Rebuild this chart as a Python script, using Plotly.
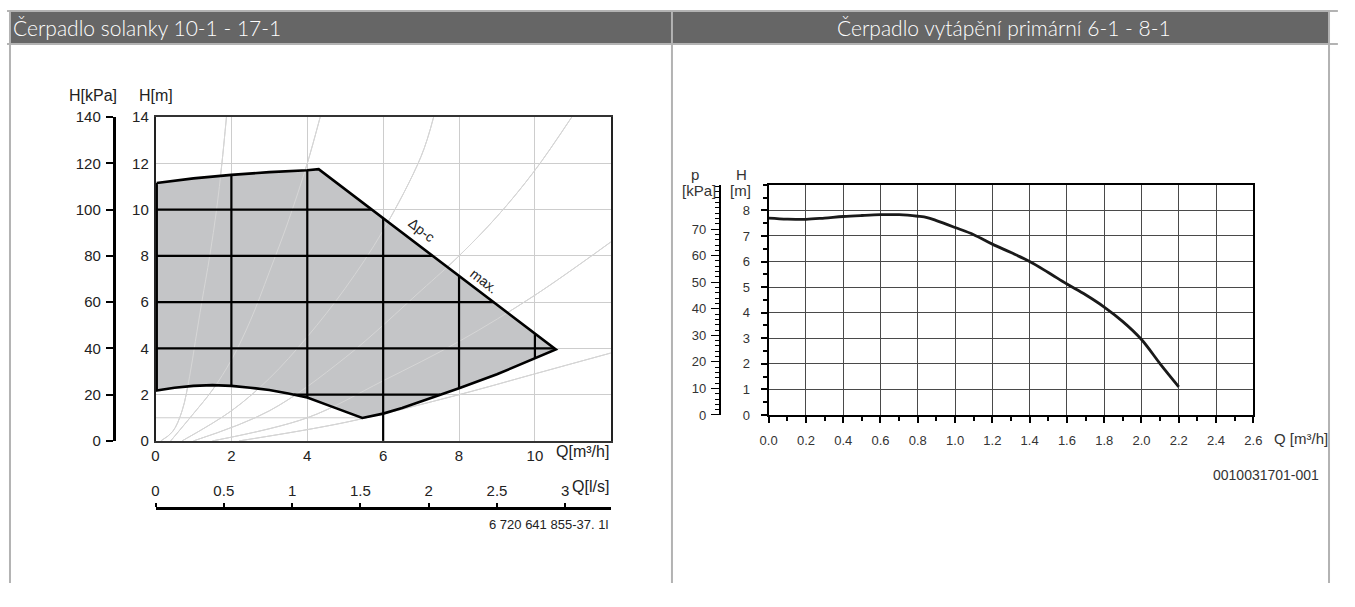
import numpy as np
import plotly.graph_objects as go

# page is 1355x607; the browser's default body margin (8px) is compensated
PAGE_W, PAGE_H = 1355, 607
OFF = 8
W, HP = PAGE_W - 2 * OFF, PAGE_H - 2 * OFF

# ---------------- left chart data (Q in m3/h, H in m) ----------------
upper_q = [0.03, 1.0, 2.0, 3.0, 4.0, 4.3]
upper_h = [11.15, 11.35, 11.5, 11.62, 11.7, 11.75]
max_q = [4.3, 10.55]
max_h = [11.75, 3.95]
lower_q = [0.03, 0.5, 1.0, 1.5, 2.0, 2.5, 3.0, 3.5, 4.0, 4.7, 5.45, 6.0, 6.5, 7.0, 7.5, 8.0, 9.0, 10.0, 10.55]
lower_h = [2.18, 2.3, 2.38, 2.41, 2.38, 2.3, 2.2, 2.05, 1.88, 1.45, 0.99, 1.18, 1.42, 1.7, 2.0, 2.28, 2.88, 3.56, 3.95]
grid_q = [2, 4, 6, 8, 10]
grid_h = [2, 4, 6, 8, 10, 12]
guide_h = 1.0
marker_q = 6

sys_q = [
    [0.14, 0.45, 0.7, 0.9, 1.05, 1.22, 1.43, 1.61, 1.75, 1.87],
    [0.4, 0.96, 1.5, 2.0, 2.5, 3.0, 3.5, 4.0, 4.34],
    [0.7, 2.0, 3.0, 4.0, 5.0, 6.0, 7.0, 7.33],
    [1.0, 3.0, 5.0, 7.0, 8.0, 9.0, 10.0, 10.97],
    [1.5, 4.0, 6.0, 8.0, 10.0, 12.0],
    [2.2, 5.0, 8.0, 10.0, 12.0],
]
sys_h = [
    [0.0, 0.4, 1.3, 2.8, 4.3, 6.0, 8.0, 10.0, 12.0, 14.0],
    [0.0, 1.1, 2.2, 3.5, 5.2, 7.3, 9.5, 12.0, 14.0],
    [0.0, 1.3, 2.7, 4.5, 6.6, 9.1, 12.3, 14.0],
    [0.0, 1.3, 3.6, 6.5, 8.0, 9.7, 11.7, 14.0],
    [0.0, 1.0, 2.6, 4.3, 6.3, 8.6],
    [0.0, 0.8, 2.0, 2.9, 3.8],
]

q_ticks = [0, 2, 4, 6, 8, 10]
h_ticks = [0, 2, 4, 6, 8, 10, 12, 14]
kpa_ticks = [0, 20, 40, 60, 80, 100, 120, 140]
ls_ticks = [0, 0.5, 1, 1.5, 2, 2.5, 3]
ls_labels = ["0", "0.5", "1", "1.5", "2", "2.5", "3"]

# ---------------- right chart data ----------------
r_q = [0.0, 0.1, 0.2, 0.3, 0.4, 0.5, 0.6, 0.7, 0.8, 0.85, 0.9, 1.0, 1.1, 1.2, 1.3, 1.4, 1.5, 1.6, 1.7, 1.8, 1.9, 2.0, 2.1, 2.2]
r_h = [7.7, 7.66, 7.65, 7.7, 7.76, 7.8, 7.83, 7.83, 7.77, 7.72, 7.6, 7.33, 7.05, 6.68, 6.35, 6.0, 5.57, 5.12, 4.7, 4.22, 3.65, 2.95, 2.0, 1.1]
r_hticks = [0, 1, 2, 3, 4, 5, 6, 7, 8]
r_pticks = [0, 10, 20, 30, 40, 50, 60, 70]


def px(x):
    return (x - OFF) / W


def py(y):
    return 1 - (y - OFF) / HP


fig = go.Figure()

FILL = "#c4c5c7"
GRID_L = "#cdcdcd"
SYS = "#c9c9c9"
TXT = "#222222"

for qq, hh in zip(sys_q, sys_h):
    fig.add_trace(go.Scatter(x=qq, y=hh, mode="lines", line=dict(color=SYS, width=1, shape="spline"),
                             hoverinfo="skip", showlegend=False, xaxis="x", yaxis="y"))

imin = int(np.argmin(lower_h))
fig.add_trace(go.Scatter(x=[0, lower_q[imin]], y=[guide_h, guide_h], mode="lines",
                         line=dict(color=GRID_L, width=1), hoverinfo="skip", showlegend=False))

poly_q = upper_q + max_q[1:] + lower_q[::-1] + [upper_q[0]]
poly_h = upper_h + max_h[1:] + lower_h[::-1] + [upper_h[0]]
fig.add_trace(go.Scatter(x=poly_q, y=poly_h, mode="lines", fill="toself", fillcolor=FILL,
                         line=dict(color="rgba(0,0,0,0)", width=0), hoverinfo="skip", showlegend=False))

for qq, hh in zip(sys_q, sys_h):
    fig.add_trace(go.Scatter(x=qq, y=hh, mode="lines", line=dict(color="#d6d6d6", width=1, shape="spline"),
                             hoverinfo="skip", showlegend=False))

bq = np.array(upper_q + max_q[1:])
bh = np.array(upper_h + max_h[1:])
lq = np.array(lower_q)
lh = np.array(lower_h)


def top_at(q):
    return np.interp(q, bq, bh)


def bot_at(q):
    return np.interp(q, lq, lh)


seg_x, seg_y = [], []
for q in grid_q:
    seg_x += [q, q, None]
    seg_y += [float(bot_at(q)), float(top_at(q)), None]
seg_x += [marker_q, marker_q, None]
seg_y += [0, float(bot_at(marker_q)), None]
qs = np.linspace(bq[0], bq[-1], 6001)
for h in grid_h:
    inside = (bot_at(qs) < h) & (top_at(qs) > h)
    i = 0
    n = len(qs)
    while i < n:
        if inside[i]:
            j = i
            while j + 1 < n and inside[j + 1]:
                j += 1
            seg_x += [float(qs[i]), float(qs[j]), None]
            seg_y += [h, h, None]
            i = j + 1
        else:
            i += 1
fig.add_trace(go.Scatter(x=seg_x, y=seg_y, mode="lines", line=dict(color="#000", width=2.2),
                         hoverinfo="skip", showlegend=False))

fig.add_trace(go.Scatter(x=poly_q, y=poly_h, mode="lines", line=dict(color="#000", width=2.6),
                         hoverinfo="skip", showlegend=False))

fig.add_trace(go.Scatter(x=r_q, y=r_h, mode="lines", line=dict(color="#1a1a1a", width=2.8, shape="spline"),
                         hoverinfo="skip", showlegend=False, xaxis="x3", yaxis="y3"))

for xa, ya in (("x", "y2"), ("x2", "y"), ("x3", "y4")):
    fig.add_trace(go.Scatter(x=[], y=[], mode="lines", xaxis=xa, yaxis=ya, hoverinfo="skip",
                             showlegend=False))

font_l = dict(family="Liberation Sans, Arial, sans-serif", size=15, color=TXT)
font_r = dict(family="Liberation Sans, Arial, sans-serif", size=13, color="#333")

fig.update_layout(
    width=W, height=HP, margin=dict(l=0, r=0, t=0, b=0),
    paper_bgcolor="white", plot_bgcolor="rgba(0,0,0,0)", showlegend=False,
    xaxis=dict(domain=[px(156.5), px(618)], range=[0, 12], anchor="y", tickvals=q_ticks, ticks="",
               showgrid=True, gridcolor=GRID_L, gridwidth=1, zeroline=False, showline=True,
               linecolor="#333", linewidth=1.5, mirror=True, tickfont=font_l),
    yaxis=dict(domain=[py(452.7), py(119.3)], range=[0, 14], anchor="x", tickvals=h_ticks, ticks="",
               showgrid=True, gridcolor=GRID_L, gridwidth=1, zeroline=False, showline=True,
               linecolor="#222", linewidth=1.5, mirror=True, tickfont=font_l, ticklabelstandoff=2),
    yaxis2=dict(overlaying="y", anchor="free", position=px(114), side="left", range=[0, 140],
                tickvals=kpa_ticks, ticks="outside", ticklen=7, tickwidth=2, tickcolor="#000",
                showline=True, linecolor="#000", linewidth=2.5, showgrid=False, zeroline=False,
                tickfont=font_l, ticklabelstandoff=2),
    xaxis2=dict(overlaying="x", anchor="free", position=py(521.7), side="top", range=[0, 12 / 3.6],
                tickvals=ls_ticks, ticktext=ls_labels, ticks="outside", ticklen=4, tickwidth=2,
                tickcolor="#000", showline=True, linecolor="#000", linewidth=2.5, showgrid=False,
                zeroline=False, tickfont=font_l, ticklabelstandoff=1),
    xaxis3=dict(domain=[px(778), px(1269.3)], range=[0, 2.6], anchor="y3", dtick=0.2, tick0=0,
                tickformat=".1f", ticks="outside", ticklen=6, tickwidth=1.5, tickcolor="#000",
                minor=dict(dtick=0.1, tick0=0, ticks="outside", ticklen=4, tickcolor="#000", showgrid=False),
                showgrid=True, gridcolor="#4a4a4a", gridwidth=1, zeroline=False, showline=True,
                linecolor="#000", linewidth=2, mirror=True, tickfont=font_r, ticklabelstandoff=6),
    yaxis3=dict(domain=[py(426), py(189)], range=[0, 9], anchor="x3", tickvals=r_hticks,
                ticks="outside", ticklen=6, tickwidth=1.5, tickcolor="#000",
                minor=dict(dtick=0.5, tick0=0, ticks="outside", ticklen=4, tickcolor="#000", showgrid=False),
                showgrid=True, gridcolor="#4a4a4a", gridwidth=1, zeroline=False, showline=True,
                linecolor="#000", linewidth=2, mirror=True, tickfont=font_r, ticklabelstandoff=8),
    yaxis4=dict(overlaying="y3", anchor="free", position=px(728.3), side="left", range=[0, 86.7],
                tickvals=r_pticks, ticks="outside", ticklen=8, tickwidth=1.2, tickcolor="#000",
                minor=dict(tickmode="linear", dtick=2, tick0=0, ticks="outside", ticklen=4, tickcolor="#000",
                           showgrid=False),
                showline=True, linecolor="#000", linewidth=1.5, showgrid=False, zeroline=False,
                tickfont=font_r, ticklabelstandoff=2),
)

BORDER = "#b3b3b3"
HEAD = "#666666"
RIGHT_EDGE = OFF + W - 1
shapes = [
    dict(type="rect", xref="paper", yref="paper", x0=px(8), x1=px(RIGHT_EDGE), y0=py(43.5), y1=py(10),
         fillcolor=HEAD, line=dict(width=0), layer="below"),
    dict(type="line", xref="paper", yref="paper", x0=px(6), x1=px(1355), y0=py(10), y1=py(10),
         line=dict(color=BORDER, width=2)),
    dict(type="line", xref="paper", yref="paper", x0=px(6), x1=px(1355), y0=py(44), y1=py(44),
         line=dict(color=BORDER, width=2)),
    dict(type="line", xref="paper", yref="paper", x0=px(9), x1=px(9), y0=py(9), y1=0,
         line=dict(color=BORDER, width=2)),
    dict(type="line", xref="paper", yref="paper", x0=px(680), x1=px(680), y0=py(9), y1=0,
         line=dict(color=BORDER, width=2)),
    dict(type="line", xref="paper", yref="paper", x0=px(RIGHT_EDGE), x1=px(RIGHT_EDGE), y0=py(9), y1=0,
         line=dict(color=BORDER, width=2)),
]
fig.update_layout(shapes=shapes)

hfont = dict(family="Lato, Roboto, sans-serif", size=21, color="white", weight=300)
ann = [
    dict(text="Čerpadlo solanky 10-1 - 17-1", x=px(10), y=py(27), xanchor="left", yanchor="middle", font=hfont),
    dict(text="Čerpadlo vytápění primární 6-1 - 8-1", x=px(1016.5), y=py(27), xanchor="center",
         yanchor="middle", font=hfont),
    dict(text="H[kPa]", x=px(93), y=py(97), xanchor="center", yanchor="middle", font=dict(font_l, size=16)),
    dict(text="H[m]", x=px(157.5), y=py(97), xanchor="center", yanchor="middle", font=dict(font_l, size=16)),
    dict(text="Q[m³/h]", x=px(618), y=py(464), xanchor="right", yanchor="middle", font=dict(font_l, size=16)),
    dict(text="Q[l/s]", x=px(618), y=py(500), xanchor="right", yanchor="middle", font=dict(font_l, size=16)),
    dict(text="6 720 641 855-37. 1l", x=px(617), y=py(539), xanchor="right", yanchor="middle",
         font=dict(font_l, size=13)),
    dict(text="p", x=px(703), y=py(178), xanchor="center", yanchor="middle", font=dict(font_r, size=15)),
    dict(text="[kPa]", x=px(707.5), y=py(195), xanchor="center", yanchor="middle", font=dict(font_r, size=15)),
    dict(text="H", x=px(750), y=py(178), xanchor="center", yanchor="middle", font=dict(font_r, size=15)),
    dict(text="[m]", x=px(749.5), y=py(195), xanchor="center", yanchor="middle", font=dict(font_r, size=15)),
    dict(text="Q [m³/h]", x=px(1288), y=py(450), xanchor="left", yanchor="middle", font=dict(font_r, size=15)),
    dict(text="0010031701-001", x=px(1338), y=py(488), xanchor="right", yanchor="middle",
         font=dict(font_r, size=14)),
]
for a in ann:
    a.update(xref="paper", yref="paper", showarrow=False)
ann += [
    dict(text="Δp-c", x=7.01, y=9.1, xref="x", yref="y", showarrow=False, textangle=38,
         font=dict(font_l, size=14)),
    dict(text="max.", x=8.66, y=6.92, xref="x", yref="y", showarrow=False, textangle=38,
         font=dict(font_l, size=14)),
]
fig.update_layout(annotations=ann)

fig.write_html("out.html")
